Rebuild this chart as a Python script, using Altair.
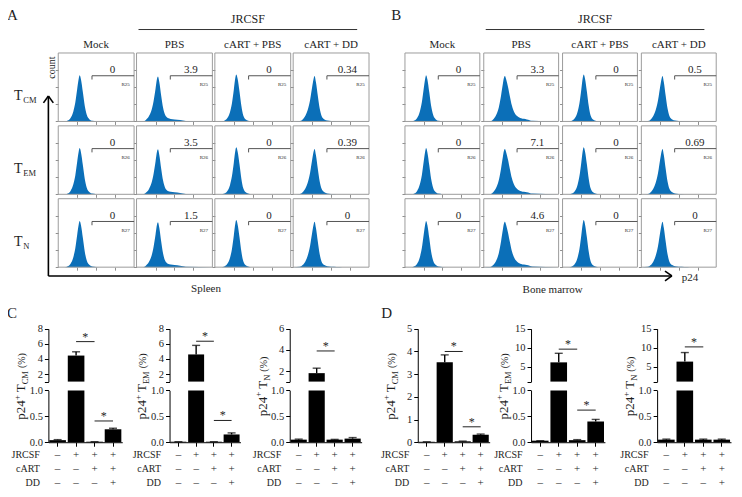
import altair as alt
import pandas as pd

FONT = "Liberation Serif"
BLUE = "#0b6fb8"
INK = "#1e1e1e"
GRAY = "#8f8f8f"

# ---------------- flow cytometry data (A: spleen, B: bone marrow) ----------------
ROWS = ["CM", "EM", "N"]
COLS = ["Mock", "PBS", "cART + PBS", "cART + DD"]
GATE_NAMES = ["R25", "R26", "R27"]
SPLEEN_P24 = [["0", "3.9", "0", "0.34"], ["0", "3.5", "0", "0.39"], ["0", "1.5", "0", "0"]]
MARROW_P24 = [["0", "3.3", "0", "0.5"], ["0", "7.1", "0", "0.69"], ["0", "4.6", "0", "0"]]

HIST_X = [0.0, 0.35, 0.5, 0.65, 0.8, 0.9, 1.0, 1.08, 1.13, 1.2, 1.3, 1.4, 1.5, 1.65, 1.8, 2.0, 2.3, 2.6, 4.0]
HIST_MOCK = [0, 0, 0.05, 0.20, 0.60, 1.10, 1.90, 2.50, 2.70, 2.45, 1.70, 0.90, 0.40, 0.12, 0.04, 0.01, 0, 0, 0]
HIST_PBS = [0, 0, 0.10, 0.30, 0.70, 1.20, 1.90, 2.50, 2.63, 2.30, 1.50, 0.80, 0.40, 0.20, 0.15, 0.12, 0.08, 0.02, 0]
HIST_CART = [0, 0, 0.04, 0.18, 0.55, 1.05, 1.85, 2.55, 2.75, 2.50, 1.75, 0.90, 0.35, 0.10, 0.03, 0, 0, 0, 0]
HIST_DD = [0, 0.02, 0.12, 0.35, 0.80, 1.30, 2.00, 2.50, 2.65, 2.30, 1.50, 0.75, 0.32, 0.12, 0.05, 0.02, 0.01, 0, 0]
HIST_PBS_BM = [0, 0.01, 0.12, 0.35, 0.80, 1.35, 2.05, 2.55, 2.65, 2.45, 2.00, 1.45, 0.95, 0.50, 0.30, 0.18, 0.12, 0.04, 0]
SPLEEN_HISTS = [HIST_MOCK, HIST_PBS, HIST_CART, HIST_DD]
MARROW_HISTS = [HIST_MOCK, HIST_PBS_BM, HIST_CART, HIST_DD]
GATE_X = [1.78, 1.78, 4.0]
GATE_Y = [2.45, 2.67, 2.67]
AXIS_MAX = 4.0

# ---------------- bar chart data (C: spleen, D: bone marrow) ----------------
G = ["1", "2", "3", "4"]
SIGN_ROWS = ["JRCSF", "cART", "DD"]
SIGN_JRCSF = ["\u2013", "+", "+", "+"]
SIGN_CART = ["\u2013", "\u2013", "+", "+"]
SIGN_DD = ["\u2013", "\u2013", "\u2013", "+"]

C_CM_MEAN = [0.04, 4.45, 0.01, 0.25]
C_CM_ERR = [0.01, 0.50, 0.0, 0.02]
C_EM_MEAN = [0.01, 4.6, 0.01, 0.15]
C_EM_ERR = [0.0, 1.2, 0.0, 0.03]
C_N_MEAN = [0.05, 1.8, 0.05, 0.07]
C_N_ERR = [0.01, 0.47, 0.005, 0.02]
D_CM_MEAN = [0.02, 3.52, 0.04, 0.33]
D_CM_ERR = [0.0, 0.33, 0.01, 0.03]
D_EM_MEAN = [0.03, 6.1, 0.04, 0.40]
D_EM_ERR = [0.0, 2.4, 0.01, 0.04]
D_N_MEAN = [0.05, 6.3, 0.05, 0.05]
D_N_ERR = [0.01, 2.4, 0.01, 0.01]

C_CM_SIG = [("2", "3", 6.3), ("3", "4", 0.41)]
C_EM_SIG = [("2", "3", 6.35), ("3", "4", 0.42)]
C_N_SIG = [("2", "3", 3.9)]
D_CM_SIG = [("2", "3", 4.0), ("3", "4", 0.68)]
D_EM_SIG = [("2", "3", 9.6), ("3", "4", 0.62)]
D_N_SIG = [("2", "3", 10.2)]

# ---------------- layout (reference-figure coordinates, mapped into the view) ----------------
W, H = 726, 481


def PX(x):
    return (x - 4) * 0.985


def PY(y):
    return (y - 3) * 0.978


A_COLS = [55, 134.5, 214, 293.5]
A_PW = 77
B_COLS = [407, 487, 567, 647]
B_PW = 76
ROW_TOPS = [49, 123.5, 198]
PANEL_H = 70

ONE = pd.DataFrame({"o": [0]})
layers = []


def txt(s, x, y, size, align="center", baseline="middle", angle=None, color=INK):
    kw = dict(text=s, fontSize=size, align=align, baseline=baseline, color=color, font=FONT)
    if angle is not None:
        kw["angle"] = angle
    return alt.Chart(ONE).mark_text(**kw).encode(x=alt.value(PX(x)), y=alt.value(PY(y)))


def seg(x1, y1, x2, y2, w=1.0, color=INK):
    return alt.Chart(ONE).mark_rule(color=color, strokeWidth=w).encode(
        x=alt.value(PX(x1)), y=alt.value(PY(y1)), x2=alt.value(PX(x2)), y2=alt.value(PY(y2)))


# ---------------- flow panels ----------------
def flow_panel(x0, x1, y0, y1, hist, pct, gate_name):
    xs = alt.Scale(domain=[0, AXIS_MAX], range=[PX(x0), PX(x1)], nice=False, zero=False)
    ys = alt.Scale(domain=[0, AXIS_MAX], range=[PY(y1), PY(y0)], nice=False, zero=False)
    ax_x = alt.Axis(values=[1, 2, 3], labels=False, domain=False, tickSize=3, tickColor=GRAY,
                    grid=False, title=None, orient="bottom", offset=PY(y1) - H)
    ax_y = alt.Axis(values=[0, 1, 2, 3], labels=False, domain=False, tickSize=3, tickColor=GRAY,
                    grid=False, title=None, orient="left", offset=-PX(x0))
    out = []
    out.append(alt.Chart(pd.DataFrame({"x": HIST_X, "y": hist})).mark_area(
        color=BLUE, interpolate="monotone").encode(
        x=alt.X("x:Q", scale=xs, axis=ax_x), y=alt.Y("y:Q", scale=ys, axis=ax_y)))
    out.append(alt.Chart(pd.DataFrame({"x": [0.0], "x2": [AXIS_MAX], "y": [0.0], "y2": [AXIS_MAX]})).mark_rect(
        filled=False, color="#9c9c9c", strokeWidth=1).encode(
        x=alt.X("x:Q", scale=xs, axis=None), x2="x2:Q", y=alt.Y("y:Q", scale=ys, axis=None), y2="y2:Q"))
    out.append(alt.Chart(pd.DataFrame({"i": [0, 1, 2], "x": GATE_X, "y": GATE_Y})).mark_line(
        color="#555555", strokeWidth=1).encode(
        x=alt.X("x:Q", scale=xs, axis=None), y=alt.Y("y:Q", scale=ys, axis=None), order="i:O"))
    lab = pd.DataFrame({"x": [2.86, 3.55], "y": [3.0, 2.19], "t": [pct, gate_name], "fs": [11, 5]})
    out.append(alt.Chart(lab).mark_text(color=INK, font=FONT, baseline="middle").encode(
        x=alt.X("x:Q", scale=xs, axis=None), y=alt.Y("y:Q", scale=ys, axis=None),
        text="t:N", size=alt.Size("fs:Q", scale=None)))
    return out


for cols, pw, pcts, hists in [(A_COLS, A_PW, SPLEEN_P24, SPLEEN_HISTS), (B_COLS, B_PW, MARROW_P24, MARROW_HISTS)]:
    for ri in range(3):
        for ci in range(4):
            layers += flow_panel(cols[ci], cols[ci] + pw, ROW_TOPS[ri], ROW_TOPS[ri] + PANEL_H,
                                 hists[ci], pcts[ri][ci], GATE_NAMES[ri])

# headers
layers.append(txt("A", 3, 3, 15, align="left", baseline="top"))
layers.append(txt("B", 393, 3, 15, align="left", baseline="top"))
for cols, pw in [(A_COLS, A_PW), (B_COLS, B_PW)]:
    x1 = cols[1] + 2
    x2 = cols[3] + pw - 12
    layers.append(txt("JRCSF", (x1 + x2) / 2, 14, 12))
    layers.append(seg(x1, 25, x2, 25, 1.0, "#333333"))
    for ci, c in enumerate(COLS):
        layers.append(txt(c, cols[ci] + pw / 2, 41, 11))

# row labels, count arrow, p24 arrow
for ri, sub in enumerate(ROWS):
    yb = ROW_TOPS[ri] + PANEL_H / 2 + 13
    layers.append(txt("T", 10, yb, 14, align="left", baseline="alphabetic"))
    layers.append(txt(sub, 19.5, yb + 3, 8.5, align="left", baseline="alphabetic"))
layers.append(txt("count", 49, 64, 10, angle=270))
layers += [
    seg(45, 93, 45, 277, 1.6, "black"),
    seg(40, 100, 45, 93, 1.6, "black"),
    seg(50, 100, 45, 93, 1.6, "black"),
    seg(45, 277, 678, 277, 1.6, "black"),
    seg(671, 272, 678, 277, 1.6, "black"),
    seg(671, 282, 678, 277, 1.6, "black"),
]
layers.append(txt("p24", 688, 279, 11, align="left"))
layers.append(txt("Spleen", 205, 290, 11))
layers.append(txt("Bone marrow", 557, 291, 11))

# ---------------- bar charts ----------------
CW = {"p": 0.5, "2": 0.5, "4": 0.5, "+": 0.564, "T": 0.611, "C": 0.667, "M": 0.889,
      "E": 0.611, "N": 0.722, "(": 0.333, "%": 0.833, ")": 0.333}


def tw(s, size):
    return sum(CW[ch] for ch in s) * size


def ytitle(sub, xc, yc):
    pieces = [("p24", 13, 0, 0), ("+", 9, -5.5, 0), ("T", 13, 0, 3), (sub, 8.5, 3, 0), ("(%)", 10, 0, 3)]
    total = sum(tw(t, s) + g for t, s, _, g in pieces)
    y = PY(yc) + total / 2
    out = []
    for t, s, shift, gap in pieces:
        y -= gap
        out.append(alt.Chart(ONE).mark_text(text=t, fontSize=s, align="left", baseline="alphabetic",
                                            angle=270, color=INK, font=FONT).encode(
            x=alt.value(PX(xc) + 4.5 + shift), y=alt.value(y)))
        y -= tw(t, s)
    return out


def bar_part(df, sig, x0, x1, yb, yt, lo, hi, yvals, fmt=None, expr=None, with_x_axis=True):
    xs = alt.Scale(type="band", domain=G, range=[PX(x0), PX(x1)], paddingInner=0.1, paddingOuter=0.05)
    ys = alt.Scale(domain=[lo, hi], range=[PY(yb), PY(yt)], nice=False, zero=False, clamp=True)
    ykw = dict(values=yvals, title=None, grid=False, domainColor="black", tickColor="black",
               tickSize=4, labelFontSize=10.5, labelColor=INK, labelPadding=2, labelFont=FONT,
               orient="left", offset=-PX(x0))
    if fmt:
        ykw["format"] = fmt
    if expr:
        ykw["labelExpr"] = expr
    yax = alt.Axis(**ykw)
    xax = alt.Axis(labels=False, ticks=True, tickSize=4, domainColor="black", tickColor="black",
                   title=None, grid=False, orient="bottom", offset=PY(yb) - H) if with_x_axis else None
    step = (PX(x1) - PX(x0)) / 4.0
    out = []
    out.append(alt.Chart(df).transform_filter(f"datum.mean > {lo}").mark_bar(color="black").encode(
        x=alt.X("g:N", scale=xs, axis=xax), y=alt.Y("mean:Q", scale=ys, axis=yax), y2=alt.datum(lo)))
    errs = alt.Chart(df).transform_filter(f"datum.mean > {lo} && datum.hi <= {hi}")
    out.append(errs.mark_rule(color="black", strokeWidth=1.4).encode(
        x=alt.X("g:N", scale=xs, axis=None), y=alt.Y("mean:Q", scale=ys, axis=None), y2="hi:Q"))
    out.append(errs.mark_tick(color="black", thickness=1.4, size=8, orient="horizontal").encode(
        x=alt.X("g:N", scale=xs, axis=None), y=alt.Y("hi:Q", scale=ys, axis=None)))
    sg = alt.Chart(sig).transform_filter(f"datum.y > {lo} && datum.y < {hi}")
    out.append(sg.mark_rule(color="#222222", strokeWidth=1).encode(
        x=alt.X("a:N", scale=xs, axis=None, bandPosition=0.5),
        x2=alt.X2("b:N", bandPosition=0.5), y=alt.Y("y:Q", scale=ys, axis=None)))
    out.append(sg.mark_text(text="*", fontSize=12, dx=step / 2, dy=-5, color=INK, font=FONT).encode(
        x=alt.X("a:N", scale=xs, axis=None), y=alt.Y("y:Q", scale=ys, axis=None)))
    return out


def sign_table(x0, x1):
    recs = []
    for r, signs in zip(SIGN_ROWS, [SIGN_JRCSF, SIGN_CART, SIGN_DD]):
        for g, s in zip(G, signs):
            recs.append(dict(g=g, r=r, s=s))
    xs = alt.Scale(type="band", domain=G, range=[PX(x0), PX(x1)], paddingInner=0.1, paddingOuter=0.05)
    ys = alt.Scale(type="band", domain=SIGN_ROWS, range=[PY(452.5), PY(496.5)], paddingInner=0, paddingOuter=0)
    return alt.Chart(pd.DataFrame(recs)).mark_text(fontSize=11, color=INK, font=FONT).encode(
        x=alt.X("g:N", scale=xs, axis=None),
        y=alt.Y("r:N", scale=ys, axis=alt.Axis(domain=False, ticks=False, labelFontSize=10, labelPadding=9,
                                                title=None, labelColor=INK, labelFont=FONT,
                                                orient="left", offset=-PX(x0))),
        text="s:N")


TOP_Y = (331, 385)
BOT_Y = (394, 447)
BAR_PANELS = [
    ("CM", C_CM_MEAN, C_CM_ERR, C_CM_SIG, 45, 120, (1, 8), [2, 4, 6, 8]),
    ("EM", C_EM_MEAN, C_EM_ERR, C_EM_SIG, 168, 240, (1, 8), [2, 4, 6, 8]),
    ("N", C_N_MEAN, C_N_ERR, C_N_SIG, 290, 363, (1, 6), [2, 4, 6]),
    ("CM", D_CM_MEAN, D_CM_ERR, D_CM_SIG, 420, 493, None, [0, 1, 2, 3, 4, 5]),
    ("EM", D_EM_MEAN, D_EM_ERR, D_EM_SIG, 535, 610, (1, 15), [5, 10, 15]),
    ("N", D_N_MEAN, D_N_ERR, D_N_SIG, 663, 738, (1, 15), [5, 10, 15]),
]
for sub, means, errs, sigs, x0, x1, top, ticks in BAR_PANELS:
    df = pd.DataFrame({"g": G, "mean": means, "hi": [m + e for m, e in zip(means, errs)]})
    sig = pd.DataFrame(sigs, columns=["a", "b", "y"])
    if top is None:
        layers += bar_part(df, sig, x0, x1, BOT_Y[1], TOP_Y[0], 0, 5, ticks, fmt="d")
    else:
        lo, hi = top
        layers += bar_part(df, sig, x0, x1, TOP_Y[1], TOP_Y[0], lo, hi, [lo] + ticks,
                           expr=f"datum.value == {lo} ? '' : datum.label", with_x_axis=False)
        layers += bar_part(df, sig, x0, x1, BOT_Y[1], BOT_Y[0], 0, 1, [0, 0.5, 1], fmt=".1f")
    layers.append(sign_table(x0, x1))
    layers += ytitle(sub, x0 - 28, 390)

layers.append(txt("C", 3, 308, 15, align="left", baseline="top"))
layers.append(txt("D", 383, 308, 15, align="left", baseline="top"))

chart = alt.layer(*layers).resolve_scale(x="independent", y="independent").properties(
    width=W, height=H, padding=0, autosize=alt.AutoSizeParams(type="none")
).configure(font=FONT).configure_axis(labelFont=FONT, titleFont=FONT).configure_text(
    font=FONT).configure_view(stroke=None)
chart.save("out.html", embed_options={"renderer": "svg", "actions": False})
